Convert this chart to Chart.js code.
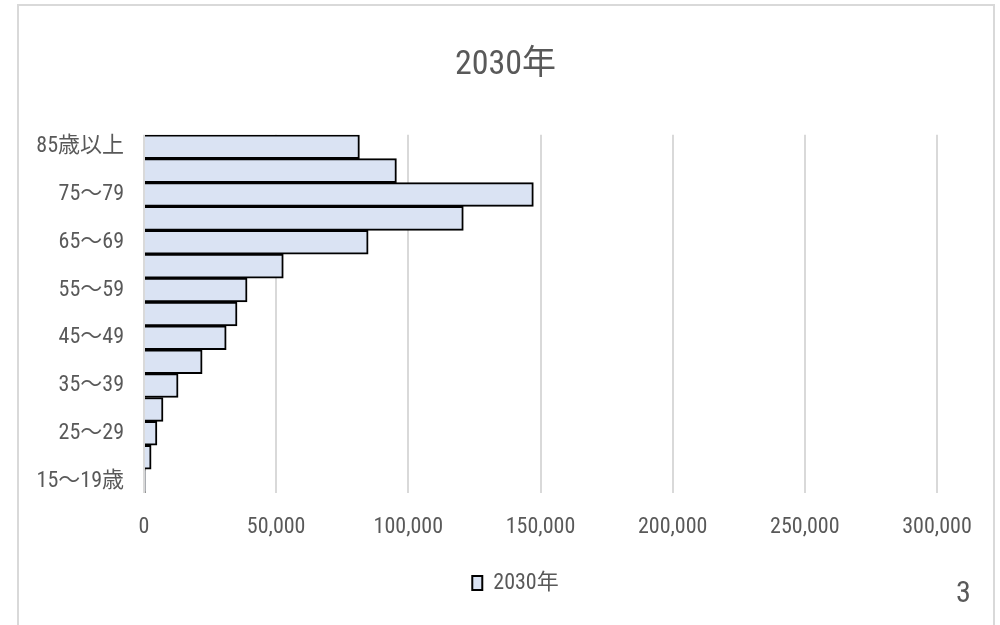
<!DOCTYPE html>
<html>
<head>
<meta charset="utf-8">
<script src="https://cdn.jsdelivr.net/npm/chart.js@4"></script>
<style>
  html, body { margin: 0; padding: 0; background: #ffffff; }
  #wrap { position: relative; width: 1000px; height: 625px; overflow: hidden; }
  #frame { position: absolute; left: 17px; top: 4px; width: 978px; height: 680px; border: 2px solid #d9d9d9; box-sizing: border-box; }
  #chart { position: absolute; left: 0; top: 0; }
  #page { position: absolute; left: 956px; top: 572px; font-size: 30px; color: #595959; line-height: 40px; }
</style>
</head>
<body>
<div id="wrap">
  <div id="frame"></div>
  <canvas id="chart" width="1000" height="625"></canvas>
  <div id="page">3</div>
</div>
<script>
const categories = ['15～19歳', '20～24', '25～29', '30～34', '35～39', '40～44', '45～49', '50～54', '55～59', '60～64', '65～69', '70～74', '75～79', '80～84', '85歳以上'];
const seriesName = '2030年';
const values2030 = [500, 2700, 4900, 7200, 12900, 22000, 31100, 35200, 39000, 52700, 84800, 120800, 147300, 95500, 81500];
const xTicks = [0, 50000, 100000, 150000, 200000, 250000, 300000];

// pick a condensed font if one is installed
function pickFont() {
  const c = document.createElement('canvas').getContext('2d');
  const probe = '50,000 2030';
  const widthOf = (fam) => { c.font = '40px ' + fam; return c.measureText(probe).width; };
  const baseMono = widthOf('monospace');
  const baseSerif = widthOf('serif');
  const cands = ['Liberation Sans Narrow', 'Roboto Condensed', 'Open Sans Condensed', 'Arial Narrow', 'Nimbus Sans Narrow', 'DejaVu Sans Condensed'];
  for (const f of cands) {
    const a = widthOf("'" + f + "', monospace");
    const b = widthOf("'" + f + "', serif");
    if (a !== baseMono || b !== baseSerif) return f;
  }
  return null;
}
const found = pickFont();
const narrow = found && found !== 'DejaVu Sans Condensed';
const FONT = found ? "'" + found + "', 'Noto Sans CJK JP', sans-serif" : "'Noto Sans CJK JP', sans-serif";
const TICK = narrow ? 22 : 19;
const TITLE = narrow ? 34 : 30;
document.getElementById('page').style.fontFamily = FONT;
const GREY = '#595959';

const boxShift = {
  id: 'boxShift',
  afterLayout(chart) {
    const l = chart.legend;
    if (l) { l.left += 47; l.right += 47; }
    const t = chart.titleBlock;
    if (t) { t.left += 37; t.right += 37; }
  }
};

new Chart(document.getElementById('chart'), {
  type: 'bar',
  data: {
    labels: categories,
    datasets: [{
      label: seriesName,
      data: values2030,
      backgroundColor: '#dae3f3',
      borderColor: '#000000',
      borderWidth: 2,
      borderSkipped: 'start',
      categoryPercentage: 1.0,
      barPercentage: 1.0
    }]
  },
  plugins: [boxShift],
  options: {
    indexAxis: 'y',
    responsive: false,
    animation: false,
    layout: { padding: { left: 0, right: 63, top: 0, bottom: 21 } },
    plugins: {
      title: {
        display: true,
        text: seriesName,
        color: GREY,
        font: { family: FONT, size: TITLE, weight: 'normal' },
        padding: { top: 45, bottom: 49 }
      },
      legend: {
        display: true,
        position: 'bottom',
        labels: {
          color: GREY,
          font: { family: FONT, size: TICK },
          boxWidth: 10,
          boxHeight: 14,
          padding: 10
        }
      },
      tooltip: { enabled: false }
    },
    scales: {
      x: {
        min: 0,
        max: 300000,
        afterBuildTicks: (scale) => { scale.ticks = xTicks.map(v => ({ value: v })); },
        afterFit: (scale) => { scale.height = 69; },
        grid: { color: '#d9d9d9', lineWidth: 2, drawTicks: false },
        border: { display: false },
        ticks: {
          color: GREY,
          padding: 21,
          font: { family: FONT, size: TICK },
          maxRotation: 0,
          callback: (v) => v.toLocaleString('en-US')
        }
      },
      y: {
        reverse: true,
        afterFit: (scale) => { scale.width = 144; },
        grid: { display: false, drawTicks: false },
        border: { display: false },
        ticks: {
          color: GREY,
          padding: 20,
          autoSkip: false,
          font: { family: FONT, size: TICK },
          callback: function (v, i) { return i % 2 === 0 ? this.getLabelForValue(v) : ''; }
        }
      }
    }
  }
});
</script>
</body>
</html>
